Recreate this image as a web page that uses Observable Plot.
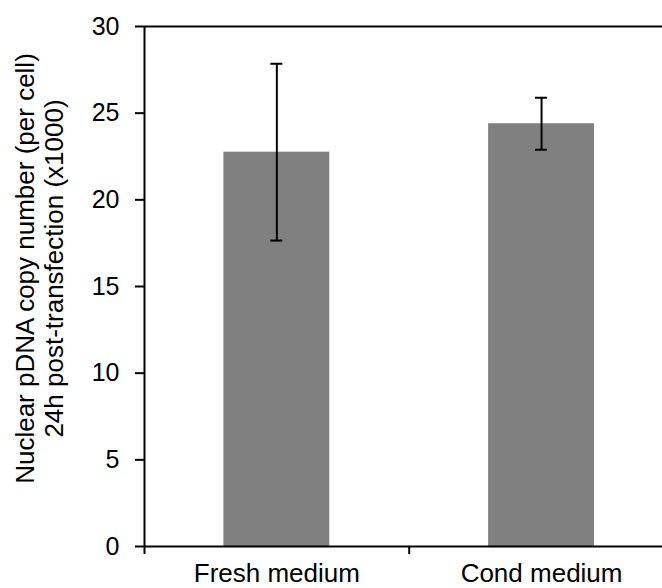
<!DOCTYPE html>
<html>
<head>
<meta charset="utf-8">
<script src="https://cdn.jsdelivr.net/npm/d3@7"></script>
<script src="https://cdn.jsdelivr.net/npm/@observablehq/plot@0.6"></script>
<style>
  html, body { margin: 0; padding: 0; background: #fff; overflow: hidden; }
  #chart svg { display: block; font-family: "Liberation Sans", Arial, sans-serif; }
</style>
</head>
<body>
<div id="chart"></div>
<script>
const categories = ["Fresh medium", "Cond medium"];
const means = [22.75, 24.39];
const errors = [5.1, 1.5];
const yTicks = [0, 5, 10, 15, 20, 25, 30];
const yTitle = "Nuclear pDNA copy number (per cell)\n24h post-transfection (x1000)";

const data = categories.map((c, i) => ({cat: c, i, mean: means[i], err: errors[i]}));
const boundaries = d3.range(categories.length + 1);
const centers = categories.map((c, i) => i + 0.5);

const plot = Plot.plot({
  width: 662,
  height: 588,
  marginLeft: 144,
  marginRight: 0,
  marginTop: 26,
  marginBottom: 42,
  style: {fontFamily: "'Liberation Sans', Arial, sans-serif", color: "#000", background: "#fff", overflow: "hidden"},
  x: {domain: [0, categories.length], range: [144, 673.4]},
  y: {domain: [0, 30]},
  marks: [
    Plot.rectY(data, {x1: d => d.i + 0.3, x2: d => d.i + 0.7, y1: 0, y2: "mean", fill: "#808080"}),
    Plot.ruleY([30], {stroke: "#000", strokeWidth: 2}),
    Plot.ruleY([0], {stroke: "#000", strokeWidth: 2}),
    Plot.ruleX([0], {stroke: "#000", strokeWidth: 2}),
    Plot.ruleX(data, {x: d => d.i + 0.5, y1: d => d.mean - d.err, y2: d => d.mean + d.err, stroke: "#000", strokeWidth: 2}),
    Plot.ruleY(data, {y: d => d.mean + d.err, x1: d => d.i + 0.5, x2: d => d.i + 0.5, insetLeft: -6, insetRight: -6, stroke: "#000", strokeWidth: 2}),
    Plot.ruleY(data, {y: d => d.mean - d.err, x1: d => d.i + 0.5, x2: d => d.i + 0.5, insetLeft: -6, insetRight: -6, stroke: "#000", strokeWidth: 2}),
    Plot.axisY({ticks: yTicks, tickSize: 9, tickPadding: 16, fontSize: 25, strokeWidth: 2, stroke: "#000", fill: "#000", label: null}),
    Plot.axisX({ticks: boundaries, tickSize: 8, tickFormat: () => "", strokeWidth: 2, stroke: "#000", label: null}),
    Plot.axisX({ticks: centers, tickSize: 0, tickPadding: 17, fontSize: 26, fill: "#000", tickFormat: v => categories[Math.floor(v)], label: null}),
    Plot.text([yTitle], {text: d => d, frameAnchor: "left", textAnchor: "middle", lineAnchor: "middle", rotate: -90, dx: -105, dy: -18, fontSize: 26, lineHeight: 1.1, fill: "#000"})
  ]
});
document.getElementById("chart").append(plot);
</script>
</body>
</html>
